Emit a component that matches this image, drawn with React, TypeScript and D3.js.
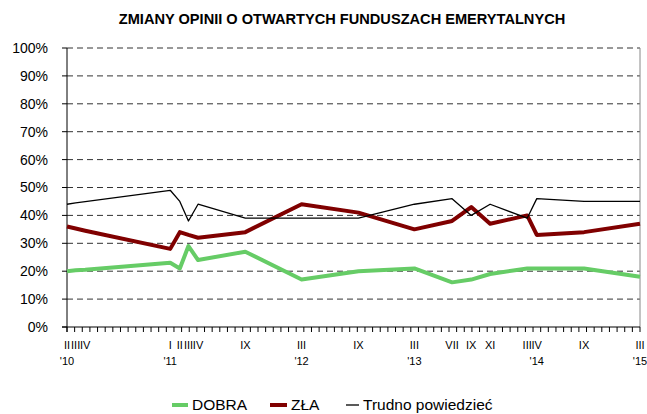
import React from 'react';
import * as d3 from 'd3';

// survey months (year-month) and their axis labels
const surveyDates = ['2010-02', '2010-03', '2010-04', '2011-01', '2011-02', '2011-03', '2011-04', '2011-09', '2012-03', '2012-09', '2013-03', '2013-07', '2013-09', '2013-11', '2014-03', '2014-04', '2014-09', '2015-03'];
const monthLabels = ['II', 'III', 'IV', 'I', 'II', 'III', 'IV', 'IX', 'III', 'IX', 'III', 'VII', 'IX', 'XI', 'III', 'IV', 'IX', 'III'];
const yearLabels = ["'10", '', '', "'11", '', '', '', '', "'12", '', "'13", '', '', '', '', "'14", '', "'15"];

const dobra = [20, 20.3, 20.5, 23, 21, 29, 24, 27, 17, 20, 21, 16, 17, 19, 21, 21, 21, 18];
const zla = [36, 35.3, 34.5, 28, 34, 33, 32, 34, 44, 41, 35, 38, 43, 37, 40, 33, 34, 37];
const trudno = [44, 44.5, 44.9, 49, 45, 38, 44, 39, 39, 39, 44, 46, 40, 44, 39, 46, 45, 45];

const yTicks = [0, 10, 20, 30, 40, 50, 60, 70, 80, 90, 100];
const minorTickCount = 75;

const series = [
  { name: 'DOBRA', values: dobra, color: '#66cc66', width: 4 },
  { name: 'ZŁA', values: zla, color: '#800000', width: 4 },
  { name: 'Trudno powiedzieć', values: trudno, color: '#000000', width: 1.3 },
];

const W = 647;
const H = 414;
const margin = { top: 48, right: 7, bottom: 87, left: 67 };
const font = 'Arial, "Liberation Sans", sans-serif';

const parse = d3.timeParse('%Y-%m');

const App = () => {
  const dates = surveyDates.map(d => parse(d) as Date);

  const x = d3.scaleTime()
    .domain([dates[0], dates[dates.length - 1]])
    .range([margin.left, W - margin.right]);
  const y = d3.scaleLinear()
    .domain([0, 100])
    .range([H - margin.bottom, margin.top]);
  const tickX = d3.scaleLinear()
    .domain([0, minorTickCount])
    .range(x.range());

  const line = d3.line<number>()
    .x((d, i) => x(dates[i]))
    .y(d => y(d));

  const x0 = margin.left;
  const x1 = W - margin.right;
  const y0 = y(0);

  const legendItems = [
    { s: series[0], lx: 172, lw: 16 },
    { s: series[1], lx: 270, lw: 17 },
    { s: series[2], lx: 346, lw: 13 },
  ];

  return (
    <svg width={W} height={H} style={{ position: 'absolute', left: 0, top: 0, background: '#fff' }} fontFamily={font}>
      <text x={342} y={24} textAnchor="middle" fontSize={14.6} fontWeight="bold">
        ZMIANY OPINII O OTWARTYCH FUNDUSZACH EMERYTALNYCH
      </text>

      {/* grid */}
      {yTicks.filter(t => t > 0).map(t => (
        <line key={t} x1={x0} x2={x1} y1={y(t)} y2={y(t)} stroke="#333" strokeWidth={1} strokeDasharray="6,4" />
      ))}

      {/* y axis */}
      <line x1={x0} x2={x0} y1={margin.top} y2={y0 + 5} stroke="#000" />
      <line x1={x1} x2={x1} y1={margin.top} y2={y0} stroke="#888" />
      {yTicks.map(t => (
        <g key={t}>
          <line x1={x0 - 5} x2={x0} y1={y(t)} y2={y(t)} stroke="#000" />
          <text x={48} y={y(t)} dy="0.35em" textAnchor="end" fontSize={14}>{t}%</text>
        </g>
      ))}

      {/* x axis */}
      <line x1={x0 - 5} x2={x1} y1={y0} y2={y0} stroke="#000" />
      {d3.range(minorTickCount + 1).map(i => (
        <line key={i} x1={tickX(i)} x2={tickX(i)} y1={y0} y2={y0 + 5} stroke="#000" />
      ))}
      {dates.map((d, i) => (
        <g key={i} fontSize={11}>
          <text x={x(d)} y={y0 + 22} textAnchor="middle">{monthLabels[i]}</text>
          {yearLabels[i] && <text x={x(d)} y={y0 + 38} textAnchor="middle">{yearLabels[i]}</text>}
        </g>
      ))}

      {/* series */}
      {series.map(s => (
        <path key={s.name} d={line(s.values) || ''} fill="none" stroke={s.color} strokeWidth={s.width} strokeLinejoin="round" />
      ))}

      {/* legend */}
      {legendItems.map(({ s, lx, lw }) => (
        <g key={s.name}>
          <line x1={lx} x2={lx + lw} y1={405} y2={405} stroke={s.color} strokeWidth={s.width} />
          <text x={lx + lw + 4} y={410} fontSize={15.5}>{s.name}</text>
        </g>
      ))}
    </svg>
  );
};

export default App;
